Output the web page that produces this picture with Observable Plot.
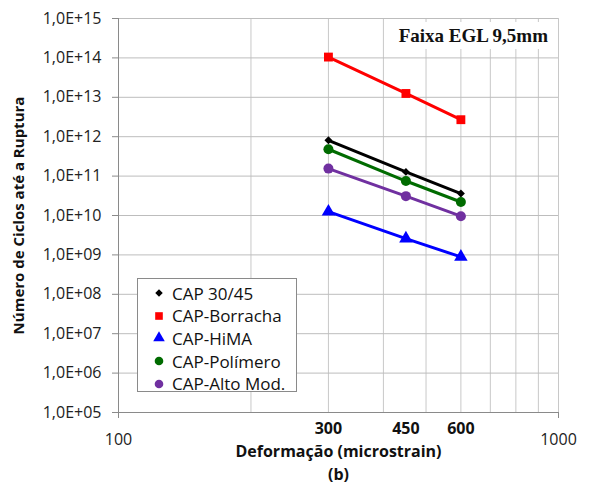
<!DOCTYPE html>
<html>
<head>
<meta charset="utf-8">
<script src="https://cdn.jsdelivr.net/npm/d3@7"></script>
<script src="https://cdn.jsdelivr.net/npm/@observablehq/plot@0.6"></script>
<style>
  html, body { margin: 0; padding: 0; background: #fff; }
  #chart { position: relative; width: 593px; height: 488px; font-family: "Open Sans", sans-serif; }
  #chart svg { display: block; }
  .legend { position: absolute; left: 137px; top: 278px; width: 160px; height: 114px;
    border: 1px solid #8a8a8a; background: #fff; box-sizing: border-box; padding: 3px 0 0 14px; }
  .legend .item { display: flex; align-items: center; height: 22.6px; font-size: 17px; color: #111; white-space: nowrap; }
  .legend .item svg { margin-right: 6px; }
  .title-box { position: absolute; left: 384px; top: 22px; width: 172px; height: 27px; background: #fff;
    font-family: "Liberation Serif", serif; font-weight: bold; font-size: 19px; color: #111;
    display: flex; align-items: center; justify-content: flex-end; padding-right: 8px; box-sizing: border-box; }
</style>
</head>
<body>
<div id="chart"></div>
<script>
// Fatigue life versus tensile strain, EGL 9.5 mm gradation
const strain = [300, 450, 600];
const seriesNames = ["CAP 30/45", "CAP-Borracha", "CAP-HiMA", "CAP-Polímero", "CAP-Alto Mod."];
const cap3045 = [8.1e11, 1.28e11, 3.6e10];
const capBorracha = [1.05e14, 1.25e13, 2.7e12];
const capHiMA = [1.25e10, 2.6e9, 8.9e8];
const capPolimero = [4.8e11, 7.5e10, 2.2e10];
const capAltoMod = [1.55e11, 3.1e10, 9.6e9];
const seriesColors = ["#000000", "#ff0000", "#0000ff", "#006b00", "#7030a0"];
const seriesSymbols = ["diamond2", "square", "triangle", "circle", "circle"];
const seriesSizes = [3.6, 5, 5, 5, 5];
const xTicks = [100, 1000];
const xMarked = [300, 450, 600];
const xGrid = [100, 200, 300, 400, 500, 600, 700, 800, 900, 1000];
const yTicks = [1e5, 1e6, 1e7, 1e8, 1e9, 1e10, 1e11, 1e12, 1e13, 1e14, 1e15];
const titleText = "Faixa EGL 9,5mm";
const xLabel = "Deformação (microstrain)";
const subLabel = "(b)";
const yLabel = "Número de Ciclos até a Ruptura";

const allValues = [cap3045, capBorracha, capHiMA, capPolimero, capAltoMod];
const rows = [];
allValues.forEach((vals, i) => vals.forEach((v, j) => rows.push({series: seriesNames[i], x: strain[j], y: v})));

const sciFmt = d => "1,0E+" + String(Math.round(Math.log10(d))).padStart(2, "0");

// One dot mark per series so each marker keeps its own size
const dotMarks = seriesNames.map((name, i) =>
  Plot.dot(rows.filter(r => r.series === name), {
    x: "x", y: "y", fill: seriesColors[i], symbol: seriesSymbols[i], r: seriesSizes[i], stroke: null
  })
);

const plot = Plot.plot({
  width: 593,
  height: 488,
  marginLeft: 118,
  marginRight: 35,
  marginTop: 18,
  marginBottom: 76,
  style: {fontFamily: "Open Sans, sans-serif", fontSize: "16px", color: "#222"},
  x: {type: "log", domain: [100, 1000]},
  y: {type: "log", domain: [1e5, 1e15]},
  color: {domain: seriesNames, range: seriesColors},
  marks: [
    Plot.ruleX(xGrid, {stroke: "#c8c8c8", strokeWidth: 1}),
    Plot.ruleY(yTicks, {stroke: "#bdbdbd", strokeWidth: 1}),
    Plot.axisY({ticks: yTicks, tickFormat: sciFmt, tickSize: 6, tickPadding: 11, stroke: "#8a8a8a", fontSize: 16, label: null}),
    Plot.axisX({ticks: xTicks, tickFormat: d => String(d), tickSize: 6, tickPadding: 15, stroke: "#8a8a8a", fontSize: 16, label: null}),
    Plot.ruleX([100], {stroke: "#8a8a8a"}),
    Plot.ruleY([1e5], {stroke: "#8a8a8a"}),
    Plot.text(xMarked, {x: d => d, frameAnchor: "bottom", dy: 21, text: d => String(d), fontWeight: "bold", fontSize: 16, fill: "#111"}),
    Plot.text([xLabel], {frameAnchor: "bottom", dy: 44, fontWeight: "bold", fontSize: 16, fill: "#111"}),
    Plot.text([subLabel], {frameAnchor: "bottom", dy: 67, fontWeight: "bold", fontSize: 16, fill: "#111"}),
    Plot.text([yLabel], {frameAnchor: "left", textAnchor: "middle", dx: -99, rotate: -90, fontWeight: "bold", fontSize: 15, fill: "#111"}),
    Plot.line(rows, {x: "x", y: "y", z: "series", stroke: "series", strokeWidth: 3}),
    ...dotMarks
  ]
});

const chart = document.getElementById("chart");
chart.appendChild(plot);

// Title box inside the plot area
const title = document.createElement("div");
title.className = "title-box";
title.textContent = titleText;
chart.appendChild(title);

// Legend inside the plot area
const legend = document.createElement("div");
legend.className = "legend";
const symMap = {diamond2: d3.symbolDiamond2, square: d3.symbolSquare, triangle: d3.symbolTriangle, circle: d3.symbolCircle};
const legendSizes = [3.4, 4.3, 4.3, 4.3, 4.3];
seriesNames.forEach((name, i) => {
  const item = document.createElement("div");
  item.className = "item";
  const svg = d3.create("svg").attr("width", 14).attr("height", 14);
  svg.append("path")
    .attr("transform", "translate(7,7)")
    .attr("d", d3.symbol(symMap[seriesSymbols[i]], Math.PI * legendSizes[i] * legendSizes[i])())
    .attr("fill", seriesColors[i]);
  item.appendChild(svg.node());
  const span = document.createElement("span");
  span.textContent = name;
  item.appendChild(span);
  legend.appendChild(item);
});
chart.appendChild(legend);
</script>
</body>
</html>
